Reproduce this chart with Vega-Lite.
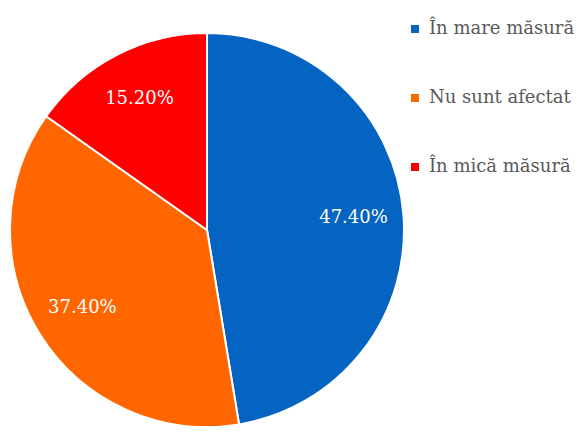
{
  "$schema": "https://vega.github.io/schema/vega-lite/v6.json",
  "width": 414,
  "height": 460,
  "padding": {"left": 0, "top": 0, "right": 172, "bottom": 0},
  "autosize": {"type": "none"},
  "background": "white",
  "data": {
    "values": [
      {"cat": "În mare măsură", "value": 47.4, "label": "47.40%", "ord": 1},
      {"cat": "Nu sunt afectat", "value": 37.4, "label": "37.40%", "ord": 2},
      {"cat": "În mică măsură", "value": 15.2, "label": "15.20%", "ord": 3}
    ]
  },
  "encoding": {
    "theta": {"field": "value", "type": "quantitative", "stack": true},
    "order": {"field": "ord", "type": "quantitative"},
    "color": {
      "field": "cat",
      "type": "nominal",
      "scale": {
        "domain": ["În mare măsură", "Nu sunt afectat", "În mică măsură"],
        "range": ["#0563C1", "#FF6600", "#FF0000"]
      },
      "sort": null,
      "legend": {
        "title": null,
        "orient": "none",
        "legendX": 406,
        "legendY": 20,
        "symbolType": "square",
        "symbolSize": 64,
        "symbolStrokeWidth": 0,
        "labelFont": "DejaVu Serif",
        "labelFontSize": 18,
        "labelColor": "#595959",
        "labelOffset": 5,
        "rowPadding": 51,
        "labelLimit": 300
      }
    }
  },
  "layer": [
    {
      "mark": {"type": "arc", "outerRadius": 197, "stroke": "white", "strokeWidth": 2}
    },
    {
      "mark": {"type": "text", "radius": 147, "font": "DejaVu Serif", "fontSize": 18, "fill": "white"},
      "encoding": {
        "text": {"field": "label", "type": "nominal"},
        "color": {"value": "white"}
      }
    }
  ],
  "config": {"view": {"stroke": null}}
}
